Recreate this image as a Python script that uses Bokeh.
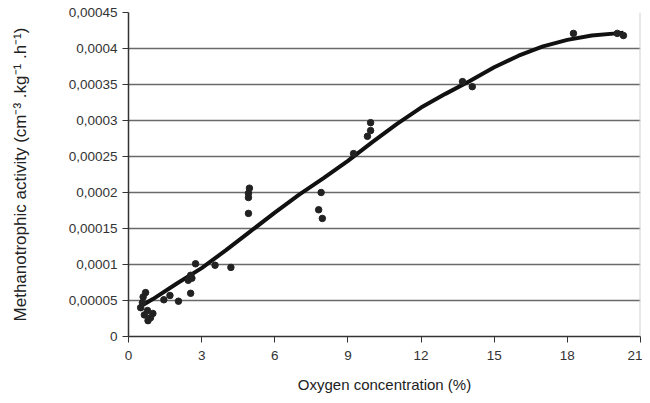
from bokeh.plotting import figure
from bokeh.models import FixedTicker, Span, Range1d
from bokeh.embed import file_html
from bokeh.resources import INLINE

# Observed data points (oxygen %, activity)
obs_x = [0.7, 0.57, 0.5, 0.78, 0.9, 1.0, 0.8, 0.6, 0.65, 1.45, 1.7, 2.05, 2.55, 2.6, 2.55, 2.75,
         2.45, 3.55, 4.2, 4.96, 4.92, 4.92, 4.92, 7.9, 7.8, 7.95, 9.23, 9.8, 9.93, 9.93,
         13.7, 14.1, 18.25, 20.05, 20.3]
obs_y = [6.1e-5, 4.7e-5, 4.0e-5, 3.6e-5, 2.6e-5, 3.2e-5, 2.2e-5, 5.5e-5, 3.0e-5, 5.1e-5, 5.7e-5, 4.9e-5, 6.0e-5, 8.1e-5, 8.5e-5, 1.01e-4,
         7.8e-5, 9.9e-5, 9.6e-5, 2.06e-4, 1.99e-4, 1.93e-4, 1.71e-4, 2.0e-4, 1.76e-4, 1.64e-4, 2.54e-4, 2.78e-4, 2.86e-4, 2.97e-4,
         3.54e-4, 3.47e-4, 4.21e-4, 4.21e-4, 4.18e-4]

# Trend line
fit_x = [0.4, 1, 2, 3, 4, 5, 6, 7, 8, 9, 10, 11, 12, 13, 14, 15, 16, 17, 18, 19, 20, 20.3]
fit_y = [4.0e-5, 5.2e-5, 7.4e-5, 9.5e-5, 1.2e-4, 1.46e-4, 1.72e-4, 1.97e-4, 2.2e-4, 2.44e-4, 2.7e-4,
         2.95e-4, 3.18e-4, 3.37e-4, 3.55e-4, 3.74e-4, 3.9e-4, 4.03e-4, 4.12e-4, 4.18e-4, 4.21e-4, 4.22e-4]

x_ticks = [0, 3, 6, 9, 12, 15, 18, 21]
y_ticks = [0, 0.00005, 0.0001, 0.00015, 0.0002, 0.00025, 0.0003, 0.00035, 0.0004, 0.00045]
y_tick_labels = ["0", "0,00005", "0,0001", "0,00015", "0,0002", "0,00025", "0,0003", "0,00035", "0,0004", "0,00045"]

p = figure(frame_width=512, frame_height=324, output_backend="svg", toolbar_location=None,
           x_range=Range1d(0, 21), y_range=Range1d(0, 0.00045),
           min_border_left=128, min_border_right=2, min_border_top=12, min_border_bottom=56)
p.outline_line_color = None
p.background_fill_color = "white"

p.xgrid.visible = False
p.ygrid.ticker = FixedTicker(ticks=y_ticks[1:-1])
p.ygrid.grid_line_color = "#6a6a6a"
p.ygrid.grid_line_width = 1.5

p.add_layout(Span(location=21, dimension="height", line_color="#d0d0d0", line_width=2))

p.line(fit_x, fit_y, line_color="#111111", line_width=4)
p.scatter(obs_x, obs_y, size=6.5, fill_color="#222222", line_color="#222222")

font = "Liberation Sans"
p.xaxis.ticker = FixedTicker(ticks=x_ticks)
p.yaxis.ticker = FixedTicker(ticks=y_ticks)
p.yaxis.major_label_overrides = {t: l for t, l in zip(y_ticks, y_tick_labels)}
p.xaxis.major_label_overrides = {t: str(t) for t in x_ticks}
for ax in (p.xaxis, p.yaxis):
    ax.axis_line_color = "#333333"
    ax.axis_line_width = 1.5
    ax.major_tick_line_color = "#333333"
    ax.major_tick_out = 6
    ax.major_tick_in = 0
    ax.minor_tick_line_color = None
    ax.major_label_text_font = font
    ax.major_label_text_font_size = "13.5px"
    ax.major_label_text_color = "#333333"
    ax.axis_label_text_font = font
    ax.axis_label_text_font_style = "normal"
    ax.axis_label_text_color = "#222222"

p.xaxis.axis_label_text_font_size = "15px"
p.yaxis.axis_label_text_font_size = "17px"
p.xaxis.axis_label = "Oxygen concentration (%)"
p.yaxis.axis_label = "Methanotrophic activity (cm\u207b\u00b3 .kg\u207b\u00b9 .h\u207b\u00b9)"
p.xaxis.axis_label_standoff = 13
p.yaxis.axis_label_standoff = 36
p.yaxis.major_label_standoff = 5
p.xaxis.major_label_standoff = 8

open("out.html", "w").write(file_html(p, INLINE))
